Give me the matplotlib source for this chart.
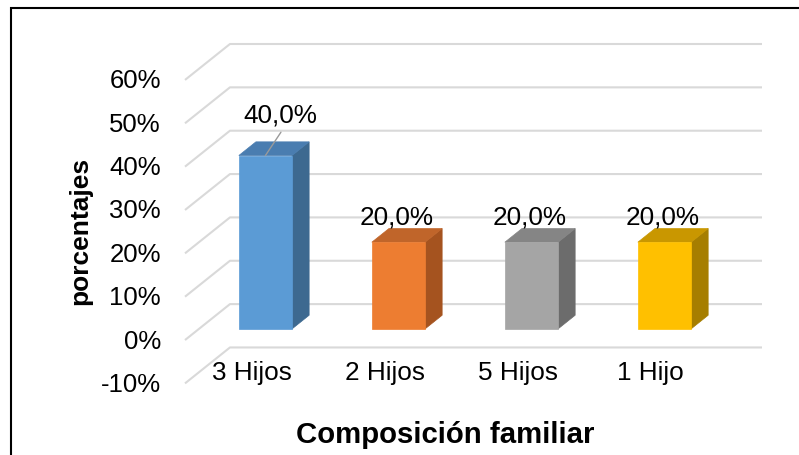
import matplotlib
matplotlib.use("Agg")
import matplotlib.pyplot as plt
from matplotlib.patches import Polygon, Rectangle

plt.rcParams["font.family"] = ["Liberation Sans", "DejaVu Sans"]

# ---- data ----
categories = ["3 Hijos", "2 Hijos", "5 Hijos", "1 Hijo"]
values = [40.0, 20.0, 20.0, 20.0]
value_labels = ["40,0%", "20,0%", "20,0%", "20,0%"]
y_ticks = [-10, 0, 10, 20, 30, 40, 50, 60]
y_tick_labels = ["-10%", "0%", "10%", "20%", "30%", "40%", "50%", "60%"]
x_title = "Composición familiar"
y_title = "porcentajes"

# ---- styling ----
front_colors = ["#5b9bd5", "#ed7d31", "#a5a5a5", "#ffc000"]
top_colors = ["#4a7db0", "#c0652a", "#858585", "#c99700"]
side_colors = ["#3d6990", "#a5531f", "#6c6c6c", "#a67e00"]
grid_color = "#d9d9d9"
# data-label offsets (pixels) from the top-front centre of each bar
label_dx = [14.5, -1.5, -1.5, -2.0]
label_dy = [33.0, 18.0, 18.0, 18.0]

W, H = 799, 455
PT = 72 / 100  # points per pixel at 100 dpi

fig = plt.figure(figsize=(W / 100, H / 100), dpi=100)

# oblique depth: full depth shifts right DX categories and up DY percent
DX, DY = 0.338, 8.29
F0, F1 = 0.31, 0.69     # depth span occupied by the columns
HALF = 0.2              # half column width in category units

ax = fig.add_axes([185 / W, 1 - 383.4 / H, 577 / W, 339.4 / H])
ax.set_xlim(0, len(categories) + DX)
ax.set_ylim(y_ticks[0], y_ticks[-1] + DY)
ax.axis("off")


def P(x, v, f):
    return (x + DX * f, v + DY * f)


# side wall + back wall gridlines
n = len(categories)
for t in y_ticks:
    ax.plot([0, DX, n + DX], [t, t + DY, t + DY], color=grid_color, lw=1.5,
            solid_capstyle="butt", clip_on=False, zorder=1)

# tick labels on the front edge
for t, lab in zip(y_ticks, y_tick_labels):
    ax.annotate(lab, xy=(0, t), xytext=(-24 * PT, -8.5 * PT),
                textcoords="offset points", ha="right", va="baseline",
                fontsize=18.5, color="black", annotation_clip=False)

# columns
for i, v in enumerate(values):
    x0, x1 = i + 0.5 - HALF, i + 0.5 + HALF
    front = [P(x0, 0, F0), P(x1, 0, F0), P(x1, v, F0), P(x0, v, F0)]
    top = [P(x0, v, F0), P(x1, v, F0), P(x1, v, F1), P(x0, v, F1)]
    side = [P(x1, 0, F0), P(x1, 0, F1), P(x1, v, F1), P(x1, v, F0)]
    for poly, col in ((side, side_colors[i]), (top, top_colors[i]),
                      (front, front_colors[i])):
        ax.add_patch(Polygon(poly, closed=True, facecolor=col,
                             edgecolor=col, lw=0.5, zorder=3, clip_on=False))

    anchor = P(i + 0.5, v, F0)
    ax.annotate(value_labels[i], xy=anchor,
                xytext=(label_dx[i] * PT, label_dy[i] * PT),
                textcoords="offset points", ha="center", va="baseline",
                fontsize=18.8, color="black", zorder=5, annotation_clip=False)

# leader line for the displaced label of the first column
ax.annotate("", xy=P(0.5, values[0], F0), xytext=(15.5 * PT, 23.3 * PT),
            textcoords="offset points",
            arrowprops=dict(arrowstyle="-", color="#9a9a9a", lw=1.0,
                            shrinkA=0, shrinkB=0),
            zorder=4, annotation_clip=False)

# category labels
for i, cat in enumerate(categories):
    ax.annotate(cat, xy=(i + 0.5, y_ticks[0]), xytext=(0, 3.4 * PT),
                textcoords="offset points", ha="center", va="baseline",
                fontsize=18.8, color="black", annotation_clip=False)

# axis titles
fig.text(445 / W, 1 - 443 / H, x_title, ha="center", va="baseline",
         fontsize=21.2, fontweight="bold", color="black")
fig.text(80 / W, 1 - 231 / H, y_title, rotation=90, ha="center",
         va="center", fontsize=19, fontweight="bold", color="black")

# chart-area border
fig.add_artist(Rectangle((11 / W, -0.1), 2.0, 1 - 8 / H + 0.1,
                         transform=fig.transFigure, fill=False,
                         edgecolor="black", lw=1.5))

fig.savefig("out.png", dpi=100)
